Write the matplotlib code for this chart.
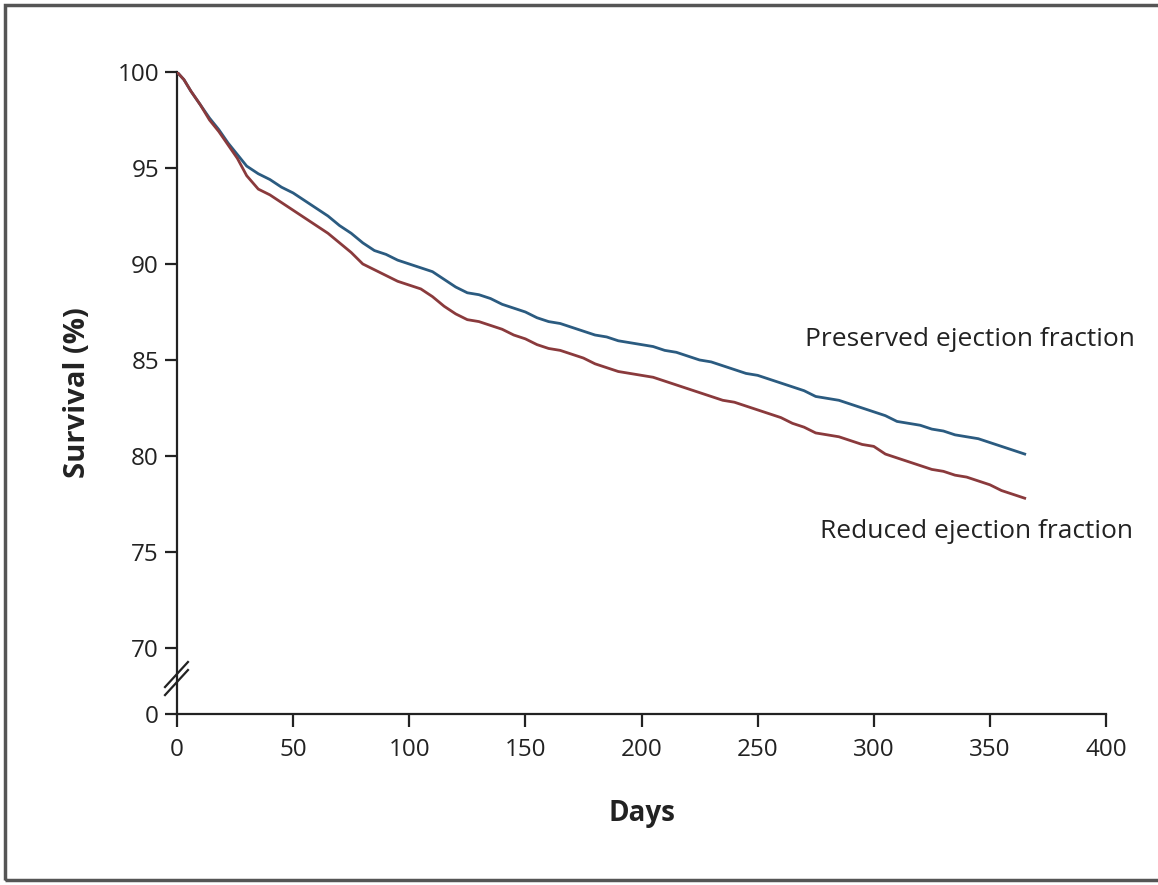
import numpy as np
import matplotlib
matplotlib.use("Agg")
import matplotlib.pyplot as plt
from matplotlib.patches import Rectangle
from matplotlib.font_manager import fontManager

# Kaplan-Meier style survival estimates (percent) by day of follow-up
days = [0, 3, 6, 10, 14, 18, 22, 26, 30, 35, 40, 45, 50, 55, 60, 65, 70, 75,
        80, 85, 90, 95, 100, 105, 110, 115, 120, 125, 130, 135, 140, 145, 150,
        155, 160, 165, 170, 175, 180, 185, 190, 195, 200, 205, 210, 215, 220,
        225, 230, 235, 240, 245, 250, 255, 260, 265, 270, 275, 280, 285, 290,
        295, 300, 305, 310, 315, 320, 325, 330, 335, 340, 345, 350, 355, 360,
        365]

preserved = [100, 99.6, 99.0, 98.3, 97.6, 97.0, 96.3, 95.7, 95.1, 94.7, 94.4,
             94.0, 93.7, 93.3, 92.9, 92.5, 92.0, 91.6, 91.1, 90.7, 90.5, 90.2,
             90.0, 89.8, 89.6, 89.2, 88.8, 88.5, 88.4, 88.2, 87.9, 87.7, 87.5,
             87.2, 87.0, 86.9, 86.7, 86.5, 86.3, 86.2, 86.0, 85.9, 85.8, 85.7,
             85.5, 85.4, 85.2, 85.0, 84.9, 84.7, 84.5, 84.3, 84.2, 84.0, 83.8,
             83.6, 83.4, 83.1, 83.0, 82.9, 82.7, 82.5, 82.3, 82.1, 81.8, 81.7,
             81.6, 81.4, 81.3, 81.1, 81.0, 80.9, 80.7, 80.5, 80.3, 80.1]

reduced = [100, 99.6, 99.0, 98.3, 97.5, 96.9, 96.2, 95.5, 94.6, 93.9, 93.6,
           93.2, 92.8, 92.4, 92.0, 91.6, 91.1, 90.6, 90.0, 89.7, 89.4, 89.1,
           88.9, 88.7, 88.3, 87.8, 87.4, 87.1, 87.0, 86.8, 86.6, 86.3, 86.1,
           85.8, 85.6, 85.5, 85.3, 85.1, 84.8, 84.6, 84.4, 84.3, 84.2, 84.1,
           83.9, 83.7, 83.5, 83.3, 83.1, 82.9, 82.8, 82.6, 82.4, 82.2, 82.0,
           81.7, 81.5, 81.2, 81.1, 81.0, 80.8, 80.6, 80.5, 80.1, 79.9, 79.7,
           79.5, 79.3, 79.2, 79.0, 78.9, 78.7, 78.5, 78.2, 78.0, 77.8]

x_ticks = [0, 50, 100, 150, 200, 250, 300, 350, 400]
y_ticks = [0, 70, 75, 80, 85, 90, 95, 100]

# font choice
names = {f.name for f in fontManager.ttflist}
family = "Liberation Sans Narrow" if "Liberation Sans Narrow" in names else "Open Sans"
plt.rcParams["font.family"] = family

BLUE = "#2b5b80"
RED = "#8a3a3c"
INK = "#222222"

fig = plt.figure(figsize=(11.58, 8.85), dpi=100)
ax = fig.add_axes([177 / 1158, 1 - 714 / 885, (1106 - 177) / 1158, (714 - 72) / 885])

# broken y axis: 0..70 squeezed into a short segment below 70
LOW, BREAK = 66.56, 70.0


def fwd(y):
    y = np.asarray(y, dtype=float)
    return np.where(y >= BREAK, y, LOW + y * (BREAK - LOW) / BREAK)


def inv(v):
    v = np.asarray(v, dtype=float)
    return np.where(v >= BREAK, v, (v - LOW) * BREAK / (BREAK - LOW))


ax.set_yscale("function", functions=(fwd, inv))

ax.plot(days, preserved, color=BLUE, lw=2.0, solid_joinstyle="round", zorder=3)
ax.plot(days, reduced, color=RED, lw=2.0, solid_joinstyle="round", zorder=3)

ax.set_xlim(0, 400)
ax.set_ylim(0, 100)
ax.set_xticks(x_ticks)
ax.set_yticks(y_ticks)
ax.set_xticklabels([str(t) for t in x_ticks])
ax.set_yticklabels([str(t) for t in y_ticks])
ax.minorticks_off()

for side in ("top", "right"):
    ax.spines[side].set_visible(False)
for side in ("left", "bottom"):
    ax.spines[side].set_linewidth(1.6)
    ax.spines[side].set_color(INK)

ax.tick_params(axis="both", direction="out", length=9, width=1.6,
               colors=INK, labelsize=17.5, pad=4)
ax.tick_params(axis="x", pad=8)

ax.set_xlabel("Days", fontsize=20, fontweight="bold", labelpad=27, color=INK)
ax.set_ylabel("Survival (%)", fontsize=21, fontweight="bold", labelpad=18, color=INK)

# axis break marks
for dy in (0.0, -0.0125):
    ax.plot([-0.0129, 0.0118], [0.042 + dy, 0.081 + dy], transform=ax.transAxes,
            color=INK, lw=1.6, clip_on=False, zorder=5)

ax.text(1135 / 1158, 1 - 340 / 885, "Preserved ejection fraction",
        transform=fig.transFigure, ha="right", va="center", fontsize=19,
        color=INK)
ax.text(1133 / 1158, 1 - 532 / 885, "Reduced ejection fraction",
        transform=fig.transFigure, ha="right", va="center", fontsize=19,
        color=INK)

# outer frame
fig.patches.append(Rectangle((5 / 1158, 5 / 885), 1.2, 1 - 10 / 885,
                             transform=fig.transFigure, fill=False,
                             edgecolor="#555555", lw=2.5))

fig.savefig("out.png", dpi=100)
